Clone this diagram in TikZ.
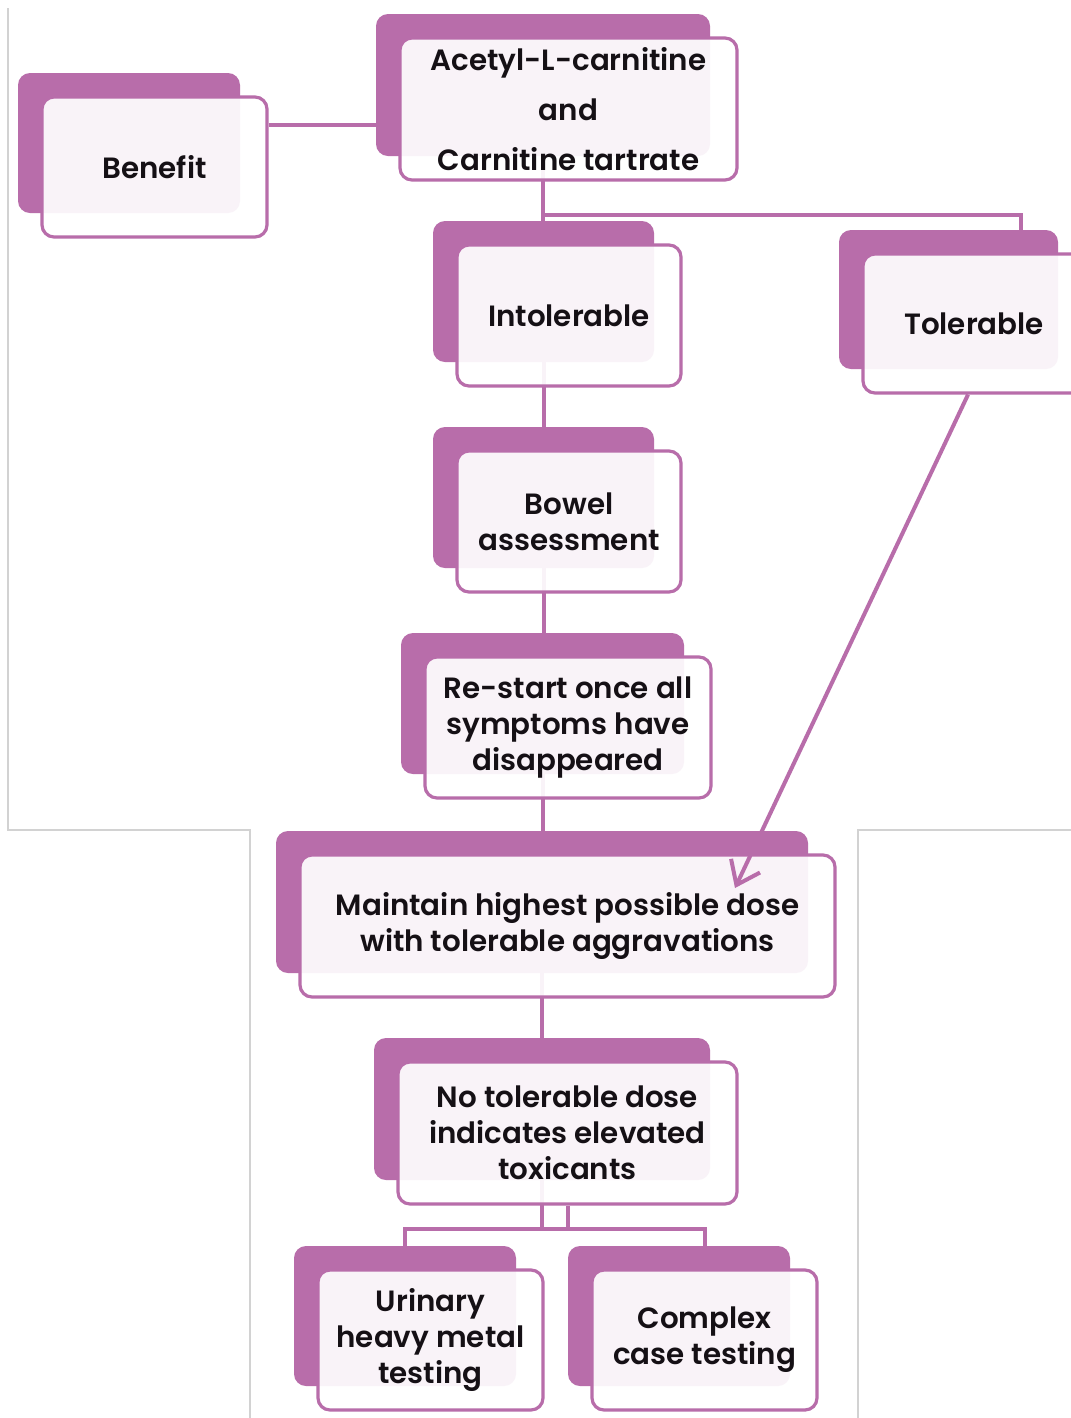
\documentclass[tikz,border=0pt]{standalone}
\usepackage{fontspec}
\setmainfont{Poppins}[BoldFont={Poppins SemiBold}]
\usetikzlibrary{arrows.meta}

\definecolor{plum}{HTML}{B86DAA}
\definecolor{framegray}{HTML}{D2D2D2}
\definecolor{inkblack}{HTML}{151015}

\pgfdeclarelayer{back}
\pgfdeclarelayer{links}
\pgfsetlayers{back,links,main}

\tikzset{
  card/.style={draw=plum, line width=2.4pt, fill=white, fill opacity=0.92,
    draw opacity=1, text opacity=1, rounded corners=9pt, align=center,
    inner sep=0pt, text=inkblack,
    font=\fontsize{22}{27}\selectfont\bfseries},
  shade/.style={fill=plum, draw=none, rounded corners=9pt, inner sep=0pt, outer sep=0pt},
  link/.style={draw=plum, line width=3pt},
  frame/.style={draw=framegray, line width=0.8pt},
}

% a card with its offset purple backing plate (#1b)
\newcommand\stackcard[6][]{%
  \node[card, minimum width=#4*0.75pt, minimum height=#5*0.75pt, #1] (#2) at (#3) {#6};
  \begin{pgfonlayer}{back}
    \node[shade, minimum width=#4*0.75pt-3*0.75pt, minimum height=#5*0.75pt]
      (#2b) at ([shift={(-25.5,-24)}]#2.center) {};
  \end{pgfonlayer}}

\begin{document}
\begin{tikzpicture}[x=0.75pt,y=-0.75pt]
\useasboundingbox (0,0) rectangle (1071,1418);
\begin{pgfonlayer}{back}
  \fill[white] (0,0) rectangle (1071,1418);
  \draw[frame] (8,8) -- (8,830) -- (250,830) -- (250,1418);
  \draw[frame] (858,1418) -- (858,830) -- (1071,830);
\end{pgfonlayer}

\stackcard{benefit}{154.5,167}{225}{140}{Benefit}
\stackcard[font=\fontsize{22}{37.5}\selectfont\bfseries]{acetyl}{568.5,109}{337}{142}{Acetyl-L-carnitine\\and\\Carnitine tartrate}
\stackcard{intol}{569,315.5}{224}{141}{Intolerable}
\stackcard{tol}{974,323.5}{222}{139}{Tolerable}
\stackcard{bowel}{569,521.5}{224}{141}{Bowel\\assessment}
\stackcard{restart}{568,727.5}{286}{141}{Re-start once all\\symptoms have\\disappeared}
\stackcard{maint}{567.5,926}{535}{142}{Maintain highest possible dose\\with tolerable aggravations}
\stackcard{notol}{567.5,1133}{339}{142}{No tolerable dose\\indicates elevated\\toxicants}
\stackcard{urin}{430.5,1340}{225}{140}{Urinary\\heavy metal\\testing}
\stackcard{compl}{704.5,1340}{225}{140}{Complex\\case testing}

\begin{pgfonlayer}{links}
  \draw[link] ([shift={(0,-42)}]benefit.east) -- ([shift={(0,-42)}]benefit.east -| acetylb.west);
  \draw[link] (acetylb.south) -- (acetylb.south |- intolb.north);
  \draw[link] (acetylb.south) |- ([shift={(72.5,-15)}]tolb.north) -- ([shift={(72.5,0)}]tolb.north);
  \draw[link] (intolb.south) -- (intolb.south |- bowelb.north);
  \draw[link] (bowelb.south) -- (bowelb.south |- restartb.north);
  \draw[link] (restartb.south) -- (restartb.south |- maintb.north);
  \draw[link] (maintb.south) -- (maintb.south |- notolb.north);
  % split bar feeding the two test cards
  \coordinate (bar) at ([shift={(0,-39)}]compl.north);
  \draw[link] (urinb.north) |- (bar) -- (compl.north);
  \draw[link] (notolb.south) -- (notolb.south |- bar);
  \draw[link] (notol.south) -- (notol.south |- bar);
\end{pgfonlayer}

\draw[link, -{Straight Barb[length=16pt, width=24pt]}]
  ([shift={(-6,0)}]tol.south) -- ([shift={(167.5,-38)}]maint.center);
\end{tikzpicture}
\end{document}
